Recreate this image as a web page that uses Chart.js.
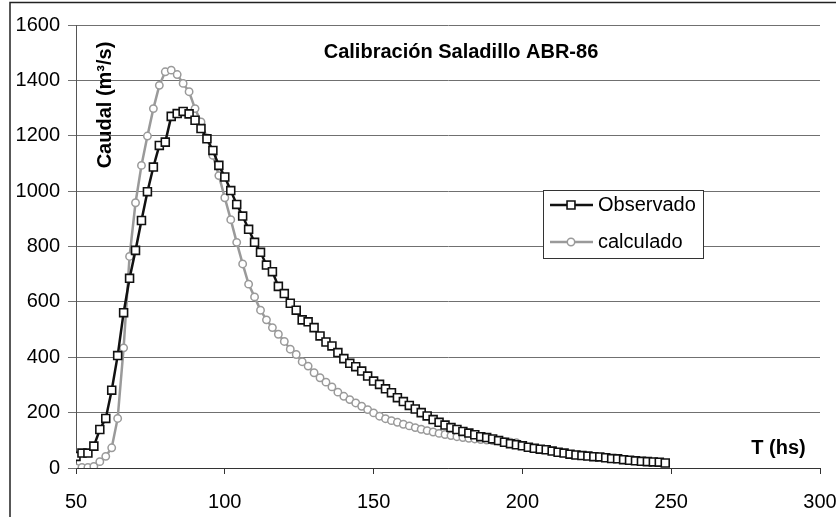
<!DOCTYPE html>
<html><head><meta charset="utf-8">
<script src="https://cdn.jsdelivr.net/npm/chart.js@4.4.0/dist/chart.umd.min.js"></script>
<style>html,body{margin:0;padding:0;background:#fff}#wrap{width:836px;height:517px;position:relative}canvas{display:block}</style>
</head><body><div id="wrap"><canvas id="c" width="836" height="517"></canvas></div>
<script>
const chartTitle = 'Calibración Saladillo ABR-86';
const yTitle = 'Caudal (m³/s)';
const xTitle = 'T (hs)';
const seriesNames = ['Observado', 'calculado'];

const obsT = [50,52,54,56,58,60,62,64,66,68,70,72,74,76,78,80,82,84,86,88,90,92,94,96,98,
  100,102,104,106,108,110,112,114,116,118,120,122,124,126,128,130,132,134,136,138,140,142,144,146,148,
  150,152,154,156,158,160,162,164,166,168,170,172,174,176,178,180,182,184,186,188,190,192,194,196,198,
  200,202,204,206,208,210,212,214,216,218,220,222,224,226,228,230,232,234,236,238,240,242,244,246,248];
const obsQ = [42,54,54,79,139,179,281,406,561,685,786,894,998,1087,1165,1177,1270,1280,1288,1279,1256,1226,1189,1147,1093,
  1051,1002,952,910,862,815,779,733,709,656,630,595,570,535,528,507,477,455,441,417,395,378,366,350,332,
  314,302,286,272,254,240,226,213,200,188,175,165,155,146,139,132,126,120,113,110,105,99,93,88,84,
  80,75,71,68,66,61,57,54,50,47,45,43,41,40,37,34,33,30,28,26,24,23,22,21,18];

const calT = [50,52,54,56,58,60,62,64,66,68,70,72,74,76,78,80,82,84,86,88,90,92,94,96,98,
  100,102,104,106,108,110,112,114,116,118,120,122,124,126,128,130,132,134,136,138,140,142,144,146,148,
  150,152,154,156,158,160,162,164,166,168,170,172,174,176,178,180,182,184,186,188,190,192,194,196,198];
const calQ = [0,2,2,6,23,42,73,179,434,764,958,1093,1199,1298,1382,1431,1437,1421,1389,1359,1298,1250,1192,1129,1056,
  976,897,815,737,664,618,570,535,507,483,457,429,410,384,368,344,326,310,293,274,259,247,235,223,211,
  199,187,178,171,165,158,152,146,140,135,130,125,121,117,113,110,107,105,103,101,99,97,95,93,91];

const xTicks = [50,100,150,200,250,300];
const yTicks = [0,200,400,600,800,1000,1200,1400,1600];

const FONT = "'Liberation Sans', Arial, sans-serif";
const obsColor = '#111111';
const calColor = '#9a9a9a';

const overlay = {
  id: 'overlay',
  afterDraw(chart) {
    const ctx = chart.ctx;
    ctx.save();
    ctx.strokeStyle = '#222';
    ctx.lineWidth = 1.5;
    ctx.beginPath();
    ctx.moveTo(10, 517); ctx.lineTo(10, 2.5); ctx.lineTo(836, 2.5);
    ctx.stroke();
    ctx.fillStyle = '#000';
    ctx.font = 'bold 20px ' + FONT;
    ctx.textAlign = 'center';
    ctx.textBaseline = 'middle';
    ctx.fillText(chartTitle, 461, 52);
    ctx.fillText(xTitle, 778.5, 448);
    ctx.save();
    ctx.translate(105, 105);
    ctx.rotate(-Math.PI / 2);
    ctx.fillText(yTitle, 0, 0);
    ctx.restore();
    const lx = 543.5, ly = 190.5, lw = 160, lh = 68;
    ctx.fillStyle = '#fff';
    ctx.fillRect(lx, ly, lw, lh);
    ctx.strokeStyle = '#333';
    ctx.lineWidth = 1;
    ctx.strokeRect(lx, ly, lw, lh);
    const ds = chart.data.datasets;
    const rows = [205, 242];
    ds.forEach((d, i) => {
      const y = rows[i];
      ctx.strokeStyle = d.borderColor;
      ctx.lineWidth = d.borderWidth;
      ctx.beginPath(); ctx.moveTo(550, y); ctx.lineTo(593, y); ctx.stroke();
      ctx.fillStyle = '#fff';
      ctx.strokeStyle = d.pointBorderColor;
      ctx.lineWidth = d.pointBorderWidth;
      ctx.beginPath();
      if (d.pointStyle === 'rect') {
        const h = d.pointRadius * Math.SQRT1_2;
        ctx.rect(571 - h, y - h, 2 * h, 2 * h);
      } else {
        ctx.arc(571, y, d.pointRadius, 0, Math.PI * 2);
      }
      ctx.fill(); ctx.stroke();
      ctx.fillStyle = '#000';
      ctx.font = '20px ' + FONT;
      ctx.textAlign = 'left';
      ctx.textBaseline = 'middle';
      ctx.fillText(d.label, 598, y);
    });
    ctx.restore();
  }
};

new Chart(document.getElementById('c').getContext('2d'), {
  type: 'line',
  data: {
    datasets: [
      { label: seriesNames[0], data: obsT.map((t, i) => ({x: t, y: obsQ[i]})),
        borderColor: obsColor, borderWidth: 2.5, pointStyle: 'rect', pointRadius: 5.6,
        pointBackgroundColor: '#fff', pointBorderColor: obsColor, pointBorderWidth: 1.6, tension: 0 },
      { label: seriesNames[1], data: calT.map((t, i) => ({x: t, y: calQ[i]})),
        borderColor: calColor, borderWidth: 2.5, pointStyle: 'circle', pointRadius: 3.7,
        pointBackgroundColor: '#fff', pointBorderColor: calColor, pointBorderWidth: 1.5, tension: 0 }
    ]
  },
  options: {
    responsive: false, animation: false, devicePixelRatio: 1, events: [],
    layout: { padding: { left: 0, right: 0, top: 25, bottom: 0 } },
    plugins: { legend: { display: false }, tooltip: { enabled: false }, title: { display: false } },
    scales: {
      x: {
        type: 'linear', min: 50, max: 300,
        afterBuildTicks(s) { s.ticks = xTicks.map(v => ({value: v})); },
        ticks: { font: { family: FONT, size: 20 }, color: '#000', padding: 16, maxRotation: 0,
          callback: v => String(v) },
        grid: { drawOnChartArea: false, tickLength: 6, color: '#333' },
        border: { color: '#333', width: 1 },
        afterFit(s) { s.height = 49; s.paddingRight = 16; s.paddingLeft = 0; }
      },
      y: {
        min: 0, max: 1600,
        afterBuildTicks(s) { s.ticks = yTicks.map(v => ({value: v})); },
        ticks: { font: { family: FONT, size: 20 }, color: '#000', padding: 8,
          callback: v => String(v) },
        grid: { color: '#707070', tickLength: 8, lineWidth: 1 },
        border: { color: '#555', width: 1 },
        afterFit(s) { s.width = 76; }
      }
    }
  },
  plugins: [overlay]
});
</script>
</body></html>
